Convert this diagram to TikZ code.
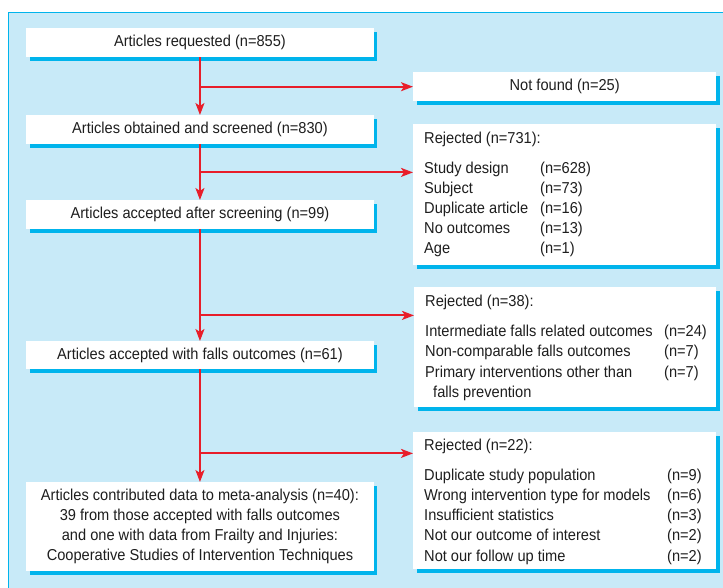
\documentclass[tikz,border=0pt]{standalone}
\usepackage{fontspec}
\setmainfont[FakeStretch=0.925]{Liberation Sans}
\usetikzlibrary{arrows.meta}
\definecolor{bgblue}{RGB}{200,234,248}
\definecolor{shadowblue}{RGB}{0,180,236}
\definecolor{flowred}{RGB}{232,30,42}
\definecolor{ink}{RGB}{30,30,30}
\begin{document}
\begin{tikzpicture}[x=1pt,y=-1pt,
  box/.style={fill=white, anchor=north west, inner sep=0pt, align=center, text=ink,
    font=\fontsize{15.8}{20}\selectfont,
    preaction={fill=shadowblue, transform canvas={shift={(3.5,3.5)}}}},
  txt/.style={anchor=base west, inner sep=0pt, text=ink, font=\fontsize{15.8}{20.2}\selectfont},
  flow/.style={draw=flowred, line width=2pt},
  arr/.style={flow, -{Stealth[length=12pt,width=9pt,inset=3pt]}},
]
\useasboundingbox (0,0) rectangle (723,588);
\clip (0,0) rectangle (723,588);
\fill[bgblue] (8,13) rectangle (740,600);
\draw[shadowblue, line width=1pt] (8,600) -- (8,13) -- (740,13);

% main column
\node[box, minimum width=347.5pt, minimum height=29pt] (a) at (26,28) {Articles requested (n=855)};
\node[box, minimum width=347.5pt, minimum height=29pt] (b) at (26,115) {Articles obtained and screened (n=830)};
\node[box, minimum width=347.5pt, minimum height=29pt] (c) at (26,200) {Articles accepted after screening (n=99)};
\node[box, minimum width=347.5pt, minimum height=28pt] (d) at (26,341) {Articles accepted with falls outcomes (n=61)};
\node[box, minimum width=347.5pt, minimum height=89pt] (e) at (26,482) {Articles contributed data to meta-analysis (n=40):\\39 from those accepted with falls outcomes\\and one with data from Frailty and Injuries:\\Cooperative Studies of Intervention Techniques};

% side column
\node[box, minimum width=303pt, minimum height=29pt] (nf) at (413,72) {Not found (n=25)};
\node[box, minimum width=303pt, minimum height=141pt] (r1) at (413,124) {};
\node[box, minimum width=302pt, minimum height=120pt] (r2) at (414,287) {};
\node[box, minimum width=303pt, minimum height=137pt] (r3) at (413,432) {};

\node[txt] (r1t) at (424,143.5) {\begin{tabular}[t]{@{}l@{}}
Rejected (n=731):\\[9.5pt]
\makebox[116pt][l]{Study design}(n=628)\\
\makebox[116pt][l]{Subject}(n=73)\\
\makebox[116pt][l]{Duplicate article}(n=16)\\
\makebox[116pt][l]{No outcomes}(n=13)\\
\makebox[116pt][l]{Age}(n=1)
\end{tabular}};
\node[txt] (r2t) at (425,306.5) {\begin{tabular}[t]{@{}l@{}}
Rejected (n=38):\\[10pt]
\makebox[239pt][l]{Intermediate falls related outcomes}(n=24)\\
\makebox[239pt][l]{Non-comparable falls outcomes}(n=7)\\
\makebox[239pt][l]{Primary interventions other than}(n=7)\\
\hspace{8pt}falls prevention
\end{tabular}};
\node[txt] (r3t) at (424,450) {\begin{tabular}[t]{@{}l@{}}
Rejected (n=22):\\[10pt]
\makebox[243pt][l]{Duplicate study population}(n=9)\\
\makebox[243pt][l]{Wrong intervention type for models}(n=6)\\
\makebox[243pt][l]{Insufficient statistics}(n=3)\\
\makebox[243pt][l]{Not our outcome of interest}(n=2)\\
\makebox[243pt][l]{Not our follow up time}(n=2)
\end{tabular}};

% connectors
\coordinate (j1) at (a.south |- nf.west);
\coordinate (j2) at ([yshift=-28pt]b.south);
\coordinate (j3) at ([yshift=-86pt]c.south);
\coordinate (j4) at ([yshift=-84pt]d.south);
\draw[arr] (a.south) -- (b.north);
\draw[arr] (b.south) -- (c.north);
\draw[arr] (c.south) -- (d.north);
\draw[arr] (d.south) -- (e.north);
\draw[arr] (j1) -- (nf.west);
\draw[arr] (j2) -- (j2 -| r1.west);
\draw[arr] (j3) -- (j3 -| r2.west);
\draw[arr] (j4) -- (j4 -| r3.west);
\end{tikzpicture}
\end{document}
